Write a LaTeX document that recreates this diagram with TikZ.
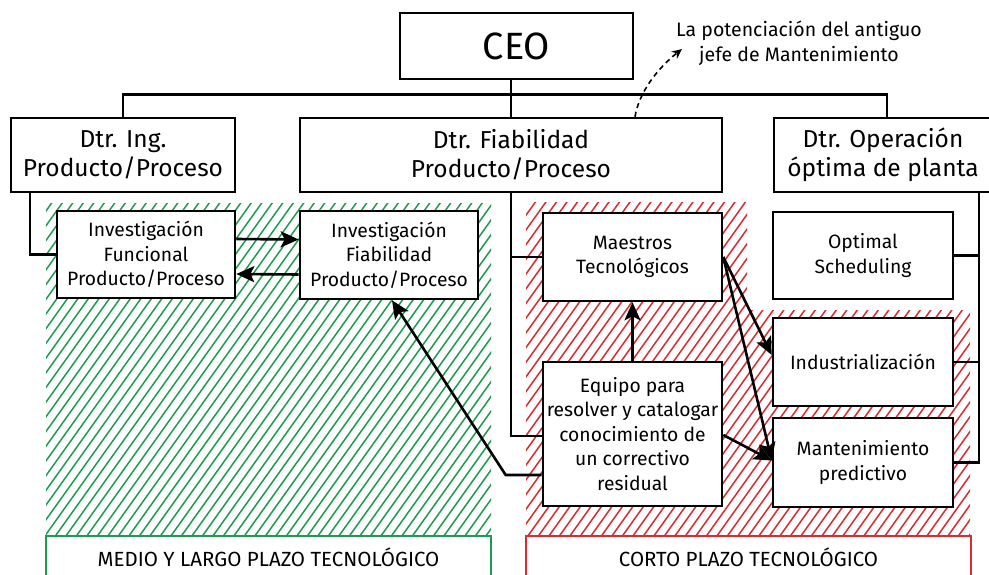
\documentclass[tikz,border=0pt]{standalone}
\usepackage{fontspec}
\setmainfont{Fira Sans}
\usetikzlibrary{arrows.meta,calc}
\definecolor{hgreen}{RGB}{30,155,80}
\definecolor{hred}{RGB}{215,45,50}
\tikzset{
  box/.style={draw, line width=2.6pt, fill=white, inner sep=0pt, align=center, text=black},
  hdr/.style={box, font=\fontsize{24.5}{29}\selectfont},
  sub/.style={box, font=\fontsize{19.3}{24.5}\selectfont},
  conn/.style={line width=2.6pt},
  arr/.style={line width=2.6pt, -{Stealth[length=18pt,width=16pt,inset=4pt]}},
  hatchline/.style={line width=1.5pt},
  lbl/.style={inner sep=0pt, font=\fontsize{20.5}{22}\selectfont},
}
\begin{document}
\begin{tikzpicture}[x=1pt,y=-1pt]
\useasboundingbox (0,0) rectangle (989,574);
% hatched regions
\begin{scope}
  \clip (46,203) rectangle (491,536);
  \foreach \k in {-30,...,80} \draw[hgreen,hatchline] (\k*10.5,540) -- ++(250,-350);
\end{scope}
\begin{scope}
  \clip (526,202) -- (747,202) -- (747,310) -- (970,310) -- (970,536) -- (526,536) -- cycle;
  \foreach \k in {20,...,100} \draw[hred,hatchline] (\k*10.5,540) -- ++(250,-350);
\end{scope}
% region labels
\draw[hgreen,line width=1.5pt] (46,580) |- (491,536) -- (491,580);
\draw[hred,line width=1.5pt] (526,580) |- (971,536) -- (971,580);
\node[lbl] (lgreen) at (268.5,557) {MEDIO Y LARGO PLAZO TECNOLÓGICO};
\node[lbl] (lred) at (748.5,557) {CORTO PLAZO TECNOLÓGICO};
% boxes
\node[box, minimum width=233pt, minimum height=66pt, font=\fontsize{38}{40}\selectfont] (ceo) at (516.5,46) {CEO};
\node[hdr, minimum width=224pt, minimum height=74pt] (ing) at (123,155) {Dtr. Ing.\\Producto/Proceso};
\node[hdr, minimum width=422pt, minimum height=74pt] (fiab) at (511,155) {Dtr. Fiabilidad\\Producto/Proceso};
\node[hdr, minimum width=218pt, minimum height=74pt] (oper) at (883,155) {Dtr. Operación\\óptima de planta};
\node[sub, minimum width=178pt, minimum height=87pt] (invf) at (146,254.5) {Investigación\\Funcional\\Producto/Proceso};
\node[sub, minimum width=178pt, minimum height=88pt] (invfi) at (389,255) {Investigación\\Fiabilidad\\Producto/Proceso};
\node[sub, minimum width=179pt, minimum height=88pt] (maes) at (632.5,257) {Maestros\\Tecnológicos};
\node[sub, minimum width=179pt, minimum height=144pt] (equipo) at (632.5,434) {Equipo para\\resolver y catalogar\\conocimiento de\\un correctivo\\residual};
\node[sub, minimum width=180pt, minimum height=87pt] (opt) at (863,255.5) {Optimal\\Scheduling};
\node[sub, minimum width=180pt, minimum height=88pt] (ind) at (863,362) {Industrialización};
\node[sub, minimum width=180pt, minimum height=89pt] (mant) at (863,462.5) {Mantenimiento\\predictivo};
% annotation
\node[lbl, align=center, font=\fontsize{19.5}{25}\selectfont] (note) at (799,43) {La potenciación del antiguo\\jefe de Mantenimiento};
\coordinate (tip) at (682,49);
% org connectors
\draw[conn] (ceo.south -| fiab.north) -- (fiab.north);
\draw[conn] (ing.north) -- ++(0,-22) -| ([xshift=4pt]oper.north);
\draw[conn] ([xshift=-93pt]ing.south) |- (invf.west);
\draw[conn] (fiab.south) |- ([yshift=-2pt]equipo.west);
\draw[conn] (fiab.south |- maes.west) -- (maes.west);
\draw[conn] ([xshift=96pt]oper.south) |- (mant.east);
\draw[conn] (opt.east) -- (opt.east -| mant.east) -- ++(26,0);
\draw[conn] (ind.east) -- ++(26,0);
% arrows
\draw[arr] ([yshift=15.5pt]invf.east) -- ([yshift=15.5pt]invfi.west);
\draw[arr] ([yshift=-19.5pt]invfi.west) -- ([yshift=-19.5pt]invf.east);
\draw[arr] ([yshift=-41pt]equipo.west) -- ++(-36,0) -- ([xshift=3pt]invfi.south);
\draw[arr] (equipo.north) -- (maes.south);
\draw[arr] (maes.east) -- ([yshift=7pt]ind.west);
\draw[arr] (maes.east) -- ([yshift=2pt]mant.west);
\draw[arr] ([yshift=-1pt]equipo.east) -- ([yshift=2pt]mant.west);
\draw[line width=1.6pt, dashed, dash pattern=on 5pt off 4pt, -{Stealth[length=10pt,width=9pt]}] ([xshift=124pt]fiab.north) .. controls (639,92) and (658,68) .. (tip);
\end{tikzpicture}
\end{document}
